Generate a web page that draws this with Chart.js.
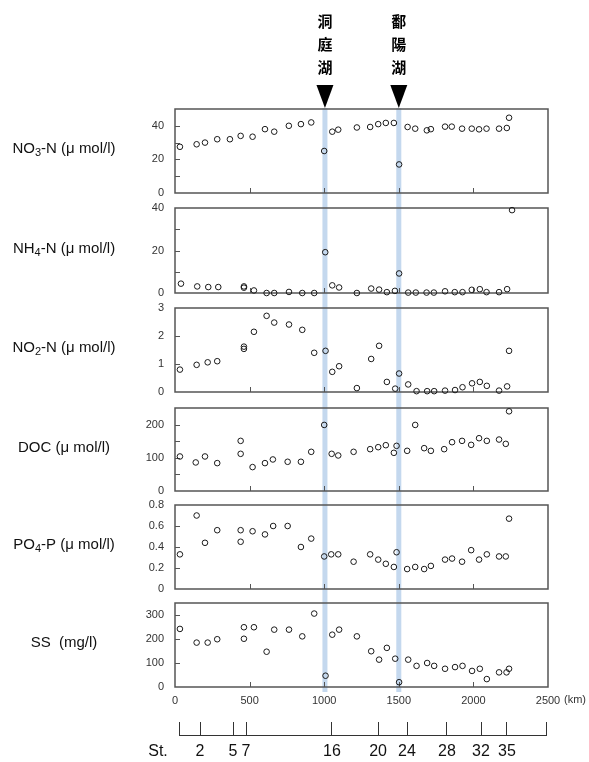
<!DOCTYPE html>
<html>
<head>
<meta charset="utf-8">
<script src="https://cdn.jsdelivr.net/npm/chart.js@4"></script>
<style>
  html, body { margin: 0; padding: 0; background: #fff; }
  #wrap { position: relative; width: 589px; height: 762px; background: #fff; overflow: hidden; }
</style>
</head>
<body>
<div id="wrap"></div>
<script>
// distance along the river (km) and the two lakes
const lakeKm = [1005, 1500];
const lakeNames = ['洞庭湖', '鄱陽湖'];
const kmTicks = [0, 500, 1000, 1500, 2000, 2500];
const stationKm = [27, 168, 389, 476, 1052, 1361, 1555, 1823, 2051, 2225, 2493];
const stationLabels = ['', '2', '5', '7', '16', '20', '24', '28', '32', '35', ''];

// NO3-N
const no3Km = [33, 145, 201, 283, 368, 440, 520, 603, 665, 763, 844, 913, 1000, 1054, 1094, 1219, 1308, 1362, 1413, 1467, 1502, 1559, 1610, 1688, 1715, 1810, 1855, 1924, 1989, 2038, 2088, 2172, 2224, 2239];
const no3Val = [27.5, 29, 30, 32, 32, 34, 33.5, 38, 36.5, 40, 41, 42, 25, 36.5, 37.7, 39, 39.3, 41, 41.7, 41.7, 17, 39.3, 38.3, 37.3, 38, 39.5, 39.5, 38.3, 38.3, 37.9, 38.3, 38.3, 38.7, 44.8];
const no3Ticks = [0, 20, 40];

// NH4-N
const nh4Km = [40, 149, 223, 290, 462, 462, 529, 614, 665, 764, 853, 933, 1007, 1054, 1100, 1219, 1315, 1368, 1420, 1474, 1502, 1563, 1614, 1686, 1735, 1810, 1875, 1927, 1989, 2043, 2088, 2172, 2226, 2259];
const nh4Val = [4.4, 3.1, 2.8, 2.8, 3.1, 2.5, 1.2, 0, 0, 0.5, 0, 0, 19.2, 3.6, 2.6, 0, 2.1, 1.6, 0.4, 1, 9.2, 0.2, 0.2, 0.2, 0.2, 0.8, 0.4, 0.4, 1.5, 1.8, 0.4, 0.4, 1.8, 39];
const nh4Ticks = [0, 20, 40];

// NO2-N
const no2Km = [33, 145, 219, 283, 462, 462, 529, 614, 665, 764, 853, 933, 1009, 1054, 1100, 1219, 1315, 1368, 1420, 1476, 1502, 1563, 1619, 1690, 1737, 1810, 1877, 1927, 1991, 2043, 2090, 2172, 2226, 2239];
const no2Val = [0.8, 0.97, 1.06, 1.1, 1.62, 1.54, 2.15, 2.72, 2.48, 2.41, 2.22, 1.4, 1.47, 0.72, 0.92, 0.14, 1.18, 1.65, 0.36, 0.12, 0.66, 0.27, 0.03, 0.03, 0.03, 0.05, 0.07, 0.17, 0.31, 0.36, 0.22, 0.05, 0.2, 1.47];
const no2Ticks = [0, 1, 2, 3];

// DOC
const docKm = [33, 139, 201, 283, 440, 440, 520, 603, 656, 755, 844, 913, 1000, 1050, 1094, 1197, 1308, 1362, 1413, 1467, 1485, 1556, 1610, 1670, 1715, 1804, 1857, 1924, 1985, 2038, 2090, 2172, 2217, 2239];
const docVal = [104, 86, 104, 84, 151, 112, 72, 84, 95, 88, 88, 118, 199, 112, 107, 118, 126, 132, 138, 115, 136, 121, 199, 129, 121, 126, 147, 151, 139, 159, 151, 155, 142, 240];
const docTicks = [0, 100, 200];

// PO4-P
const po4Km = [33, 145, 201, 283, 440, 440, 520, 603, 658, 755, 844, 913, 1000, 1047, 1094, 1197, 1308, 1362, 1413, 1467, 1485, 1556, 1610, 1670, 1715, 1810, 1857, 1924, 1985, 2038, 2090, 2172, 2217, 2239];
const po4Val = [0.33, 0.70, 0.44, 0.56, 0.56, 0.45, 0.55, 0.52, 0.60, 0.60, 0.40, 0.48, 0.31, 0.33, 0.33, 0.26, 0.33, 0.28, 0.24, 0.21, 0.35, 0.19, 0.21, 0.19, 0.22, 0.28, 0.29, 0.26, 0.37, 0.28, 0.33, 0.31, 0.31, 0.67];
const po4Ticks = [0, 0.2, 0.4, 0.6, 0.8];

// SS
const ssKm = [33, 145, 219, 283, 462, 462, 529, 614, 665, 764, 853, 933, 1009, 1054, 1100, 1219, 1315, 1368, 1420, 1476, 1502, 1563, 1619, 1690, 1737, 1810, 1877, 1927, 1991, 2043, 2090, 2172, 2222, 2239];
const ssVal = [242, 185, 185, 199, 249, 201, 249, 147, 239, 239, 211, 306, 47, 218, 239, 211, 149, 114, 163, 118, 20, 114, 88, 100, 88, 76, 83, 88, 67, 76, 33, 61, 61, 76];
const ssTicks = [0, 100, 200, 300];

const FONT = "'Liberation Sans', Arial, Helvetica, sans-serif";
const CJK = "'Noto Sans CJK TC', 'Noto Sans CJK JP', sans-serif";
const BAND = '#c4d8ee';
const FRAME = '#555';
Chart.defaults.font.family = FONT;

const panels = [
  {name: ['NO', '3', '-N (μ mol/l)'], km: no3Km, val: no3Val, max: 50, step: 10, shown: no3Ticks, top: 0, height: 200, padTop: 109, padBottom: 7},
  {name: ['NH', '4', '-N (μ mol/l)'], km: nh4Km, val: nh4Val, max: 40, step: 10, shown: nh4Ticks, top: 200, height: 100, padTop: 8, padBottom: 7},
  {name: ['NO', '2', '-N (μ mol/l)'], km: no2Km, val: no2Val, max: 3, step: 1, shown: no2Ticks, top: 300, height: 100, padTop: 8, padBottom: 8},
  {name: ['DOC (μ mol/l)'], km: docKm, val: docVal, max: 250, step: 50, shown: docTicks, top: 400, height: 98, padTop: 8, padBottom: 7},
  {name: ['PO', '4', '-P (μ mol/l)'], km: po4Km, val: po4Val, max: 0.8, step: 0.2, shown: po4Ticks, top: 498, height: 98, padTop: 7, padBottom: 7},
  {name: ['SS  (mg/l)'], km: ssKm, val: ssVal, max: 350, step: 100, shown: ssTicks, top: 596, height: 116, padTop: 7, padBottom: 0}
];

const wrap = document.getElementById('wrap');

function addCanvas(top, height) {
  const cv = document.createElement('canvas');
  cv.width = 589;
  cv.height = height;
  cv.style.cssText = 'position:absolute;left:0;top:' + top + 'px;width:589px;height:' + height + 'px;';
  wrap.appendChild(cv);
  return cv;
}

function drawName(ctx, parts, cx, cy) {
  ctx.save();
  ctx.fillStyle = '#111';
  ctx.textBaseline = 'middle';
  ctx.textAlign = 'left';
  const big = '15px ' + FONT, small = '11px ' + FONT;
  ctx.font = big;
  let w = ctx.measureText(parts[0]).width;
  if (parts.length > 1) {
    ctx.font = small; w += ctx.measureText(parts[1]).width;
    ctx.font = big; w += ctx.measureText(parts[2]).width;
  }
  let x = cx - w / 2;
  ctx.font = big;
  ctx.fillText(parts[0], x, cy);
  x += ctx.measureText(parts[0]).width;
  if (parts.length > 1) {
    ctx.font = small;
    ctx.fillText(parts[1], x, cy + 4);
    x += ctx.measureText(parts[1]).width;
    ctx.font = big;
    ctx.fillText(parts[2], x, cy);
  }
  ctx.restore();
}

// tick values 0, step, 2*step ... up to max
function stepTicks(step, max) {
  const out = [];
  for (let k = 0; k * step <= max + 1e-9; k++) out.push({value: +(k * step).toFixed(6)});
  return out;
}

const panelPlugin = (p, i) => ({
  id: 'panel' + i,
  beforeDraw(chart) {
    const {ctx, chartArea: a} = chart;
    const x = chart.scales.x;
    ctx.save();
    ctx.fillStyle = BAND;
    lakeKm.forEach(k => {
      const px = x.getPixelForValue(k);
      const y0 = i === 0 ? 108 : 0;
      const y1 = i === panels.length - 1 ? a.bottom + 5 : chart.height;
      ctx.fillRect(px - 2.5, y0, 5, y1 - y0);
    });
    ctx.restore();
  },
  beforeDatasetsDraw(chart) {
    const {ctx, chartArea: a} = chart;
    const x = chart.scales.x, y = chart.scales.y;
    ctx.save();
    ctx.strokeStyle = FRAME;
    ctx.lineWidth = 1;
    // inner tick marks
    ctx.beginPath();
    y.ticks.forEach(t => {
      if (t.value <= 0 || t.value >= p.max - 1e-9) return;
      const py = Math.round(y.getPixelForValue(t.value)) + 0.5;
      ctx.moveTo(a.left, py);
      ctx.lineTo(a.left + 5, py);
    });
    kmTicks.forEach(k => {
      if (k <= 0 || k >= 2500) return;
      const px = Math.round(x.getPixelForValue(k)) + 0.5;
      ctx.moveTo(px, a.bottom);
      ctx.lineTo(px, a.bottom - 5);
    });
    ctx.stroke();
    // frame
    ctx.lineWidth = 1.5;
    ctx.strokeRect(a.left, a.top, a.right - a.left, a.bottom - a.top);
    ctx.restore();
  },
  afterDraw(chart) {
    const {ctx, chartArea: a} = chart;
    const x = chart.scales.x;
    drawName(ctx, p.name, 64, (a.top + a.bottom) / 2 - 2);
    if (i === 0) {
      ctx.save();
      ctx.fillStyle = '#000';
      lakeKm.forEach((k, j) => {
        const px = x.getPixelForValue(k);
        ctx.beginPath();
        ctx.moveTo(px - 8.5, 85);
        ctx.lineTo(px + 8.5, 85);
        ctx.lineTo(px, 108);
        ctx.closePath();
        ctx.fill();
        ctx.font = 'bold 15px ' + CJK;
        ctx.textAlign = 'center';
        ctx.textBaseline = 'middle';
        [...lakeNames[j]].forEach((ch, c) => ctx.fillText(ch, px, 21 + c * 23));
      });
      ctx.restore();
    }
    if (i === panels.length - 1) {
      ctx.save();
      ctx.fillStyle = '#333';
      ctx.font = '11px ' + FONT;
      ctx.textAlign = 'center';
      ctx.textBaseline = 'middle';
      ctx.fillText('(km)', a.right + 27, a.bottom + 13);
      ctx.restore();
    }
  }
});

const fmt = v => Number.isInteger(v) ? String(v) : v.toFixed(1);

panels.forEach((p, i) => {
  const last = i === panels.length - 1;
  const cv = addCanvas(p.top, p.height);
  const xScale = {
    type: 'linear', min: 0, max: 2500, display: last,
    afterBuildTicks: s => { s.ticks = kmTicks.map(v => ({value: v})); },
    grid: {display: false, drawTicks: false},
    border: {display: false},
    ticks: {padding: 7, font: {size: 11}, color: '#333', maxRotation: 0, autoSkip: false, callback: v => String(v)}
  };
  if (last) xScale.afterFit = s => { s.height = 25; };
  new Chart(cv, {
    type: 'scatter',
    data: {
      datasets: [{
        data: p.km.map((k, j) => ({x: k, y: p.val[j]})),
        pointRadius: 2.8,
        pointHoverRadius: 2.8,
        borderColor: '#1a1a1a',
        backgroundColor: 'rgba(0,0,0,0)',
        borderWidth: 1,
        clip: false
      }]
    },
    options: {
      responsive: false,
      animation: false,
      events: [],
      layout: {padding: {left: 145, right: 41, top: p.padTop, bottom: p.padBottom}},
      plugins: {legend: {display: false}, tooltip: {enabled: false}},
      scales: {
        x: xScale,
        y: {
          type: 'linear', min: 0, max: p.max,
          afterBuildTicks: s => { s.ticks = stepTicks(p.step, p.max); },
          afterFit: s => { s.width = 30; },
          grid: {display: false, drawTicks: true, tickLength: 11},
          border: {display: false},
          ticks: {
            padding: 0, font: {size: 11}, color: '#333', autoSkip: false,
            callback: v => p.shown.some(s => Math.abs(s - v) < 1e-6) ? fmt(v) : ''
          }
        }
      }
    },
    plugins: [panelPlugin(p, i)]
  });
});

// station axis
const stCanvas = addCanvas(712, 50);
new Chart(stCanvas, {
  type: 'scatter',
  data: {datasets: [{data: []}]},
  options: {
    responsive: false,
    animation: false,
    events: [],
    layout: {padding: {left: 175, right: 41, top: 10, bottom: 0}},
    plugins: {legend: {display: false}, tooltip: {enabled: false}},
    scales: {
      x: {
        type: 'linear', min: 0, max: 2500,
        afterBuildTicks: s => { s.ticks = stationKm.map(v => ({value: v})); },
        afterFit: s => { s.height = 26; },
        grid: {drawOnChartArea: true, drawTicks: false, color: '#333', lineWidth: 1},
        border: {display: false},
        ticks: {
          padding: 6, font: {size: 16}, color: '#111', maxRotation: 0, minRotation: 0, autoSkip: false,
          callback: (v, idx) => stationLabels[idx]
        }
      },
      y: {display: false, min: 0, max: 1}
    }
  },
  plugins: [{
    id: 'stationLine',
    afterDraw(chart) {
      const {ctx, chartArea: a} = chart;
      const x = chart.scales.x;
      ctx.save();
      ctx.strokeStyle = '#333';
      ctx.lineWidth = 1;
      ctx.beginPath();
      ctx.moveTo(x.getPixelForValue(stationKm[0]), a.bottom - 0.5);
      ctx.lineTo(x.getPixelForValue(stationKm[stationKm.length - 1]), a.bottom - 0.5);
      ctx.stroke();
      ctx.fillStyle = '#111';
      ctx.font = '16px ' + FONT;
      ctx.textAlign = 'center';
      ctx.textBaseline = 'middle';
      ctx.fillText('St.', 158, 40);
      ctx.restore();
    }
  }]
});
</script>
</body>
</html>
